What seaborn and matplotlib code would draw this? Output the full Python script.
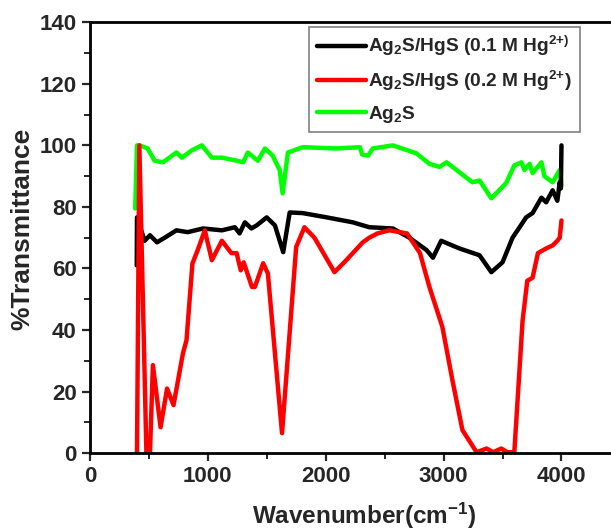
import matplotlib
matplotlib.use("Agg")
import matplotlib.pyplot as plt
from matplotlib.ticker import MultipleLocator
import pandas as pd
import seaborn as sns

# FTIR spectra (wavenumber in cm-1, %T)
ag2s_x = [385, 400, 425, 490, 550, 620, 735, 780, 865, 950, 1035, 1120, 1250, 1300, 1340,
          1425, 1485, 1550, 1610, 1635, 1680, 1805, 2090, 2290, 2310, 2360, 2400, 2570,
          2770, 2880, 2965, 3025, 3245, 3305, 3405, 3530, 3600, 3660, 3685, 3730, 3755,
          3830, 3855, 3925, 3985, 4000]
ag2s_y = [79.5, 100, 100, 99, 95, 94.5, 97.7, 96, 98.4, 100, 96, 96, 95, 94.5, 97.7,
          95, 99, 96.7, 92, 84.4, 97.7, 99.4, 99, 99.4, 97, 96.7, 99, 100,
          97.4, 94, 93, 94.5, 88, 88.6, 82.8, 87.7, 93.5, 94.5, 92, 94, 91,
          94.5, 90, 88, 92, 87]

hgs01_x = [398, 400, 465, 510, 570, 635, 735, 830, 960, 1120, 1230, 1270, 1315, 1370,
           1415, 1500, 1570, 1640, 1695, 1805, 2010, 2230, 2370, 2570, 2710, 2855, 2910,
           2980, 3135, 3305, 3405, 3500, 3585, 3645, 3700, 3755, 3830, 3870, 3925, 3965,
           3985, 3995, 4000]
hgs01_y = [61, 76.6, 69, 70.8, 68.5, 70, 72.4, 71.8, 73, 72.4, 73.4, 71.4, 75, 73,
           74, 76.6, 74, 65.3, 78.2, 78, 76.6, 75, 73.4, 73, 70, 66, 63.5,
           69, 66.5, 64.3, 58.8, 62, 70, 73.4, 76.6, 78, 83, 81.5, 85.4, 82,
           88, 86, 100]

hgs02_x = [400, 420, 480, 510, 535, 600, 655, 710, 790, 820, 870, 915, 975, 1035, 1120,
           1200, 1245, 1280, 1305, 1375, 1400, 1470, 1510, 1630, 1750, 1820, 1905, 2075,
           2175, 2315, 2370, 2440, 2540, 2690, 2800, 2880, 2990, 3075, 3160, 3280, 3365,
           3420, 3490, 3540, 3600, 3670, 3710, 3755, 3800, 3870, 3925, 3965, 3985, 4000]
hgs02_y = [0, 100, 0, 0, 28.6, 8.4, 21, 15.6, 32.5, 36.7, 61.6, 66, 72.4, 62.7, 69,
           65, 65, 59.4, 62, 54, 54, 61.7, 58.4, 6.5, 67, 73.4, 70, 58.8,
           62.7, 68.5, 70, 71.4, 72.4, 71.4, 65, 54, 41, 23.7, 7.5, 0.3, 1.5,
           0.3, 1.5, 0.3, 0.3, 43, 56, 57, 65, 66.5, 67.5, 69, 70, 75.6]

labels = ["Ag$_2$S/HgS (0.1 M Hg$^{2{+})}$",
          "Ag$_2$S/HgS (0.2 M Hg$^{2{+}}$)",
          "Ag$_2$S"]
colors = ["black", "#ff0000", "#00ff00"]

sns.set_style("ticks")
plt.rcParams["font.family"] = ["Liberation Sans", "DejaVu Sans"]
plt.rcParams["font.weight"] = "bold"
plt.rcParams["mathtext.default"] = "bf"
plt.rcParams["mathtext.fontset"] = "custom"
plt.rcParams["mathtext.bf"] = "Liberation Sans:bold"

fig = plt.figure(figsize=(6.11, 5.30), dpi=100)
ax = fig.add_axes([0.147, 0.145, 0.853, 0.813])

df_g = pd.DataFrame({"x": ag2s_x, "y": ag2s_y})
df_k = pd.DataFrame({"x": hgs01_x, "y": hgs01_y})
df_r = pd.DataFrame({"x": hgs02_x, "y": hgs02_y})

# green underneath, red on top like in the original
sns.lineplot(data=df_g, x="x", y="y", color=colors[2], lw=3.2, sort=False, estimator=None, ax=ax)
sns.lineplot(data=df_k, x="x", y="y", color=colors[0], lw=3.2, sort=False, estimator=None, ax=ax)
sns.lineplot(data=df_r, x="x", y="y", color=colors[1], lw=3.2, sort=False, estimator=None, ax=ax)

lines = ax.get_lines()
handles = [lines[1], lines[2], lines[0]]
leg = ax.legend(handles, labels, loc="upper right", bbox_to_anchor=(0.94, 0.99),
                borderaxespad=0, fancybox=False, framealpha=1, edgecolor="gray",
                handlelength=2.6, handletextpad=0.1, labelspacing=0.55,
                prop={"size": 13.8, "weight": "bold"})
leg.get_frame().set_linewidth(1.2)

ax.set_xlim(0, 4420)
ax.set_ylim(0, 140)
ax.xaxis.set_major_locator(MultipleLocator(1000))
ax.xaxis.set_minor_locator(MultipleLocator(500))
ax.yaxis.set_major_locator(MultipleLocator(20))
ax.yaxis.set_minor_locator(MultipleLocator(10))
ax.tick_params(which="major", direction="out", length=6, width=1.6, labelsize=16)
ax.tick_params(which="minor", direction="out", length=4, width=1.4)

for side in ["left", "bottom", "top"]:
    ax.spines[side].set_linewidth(2)
    ax.spines[side].set_color("black")
ax.spines["right"].set_visible(False)

ax.set_xlabel("Wavenumber(cm$^{-1}$)", fontsize=17.5, fontweight="bold")
ax.xaxis.set_label_coords(0.527, -0.11)
ax.set_ylabel("%Transmittance", fontsize=19, fontweight="bold")
ax.yaxis.set_label_coords(-0.107, 0.52)

fig.savefig("out.png", dpi=100)
